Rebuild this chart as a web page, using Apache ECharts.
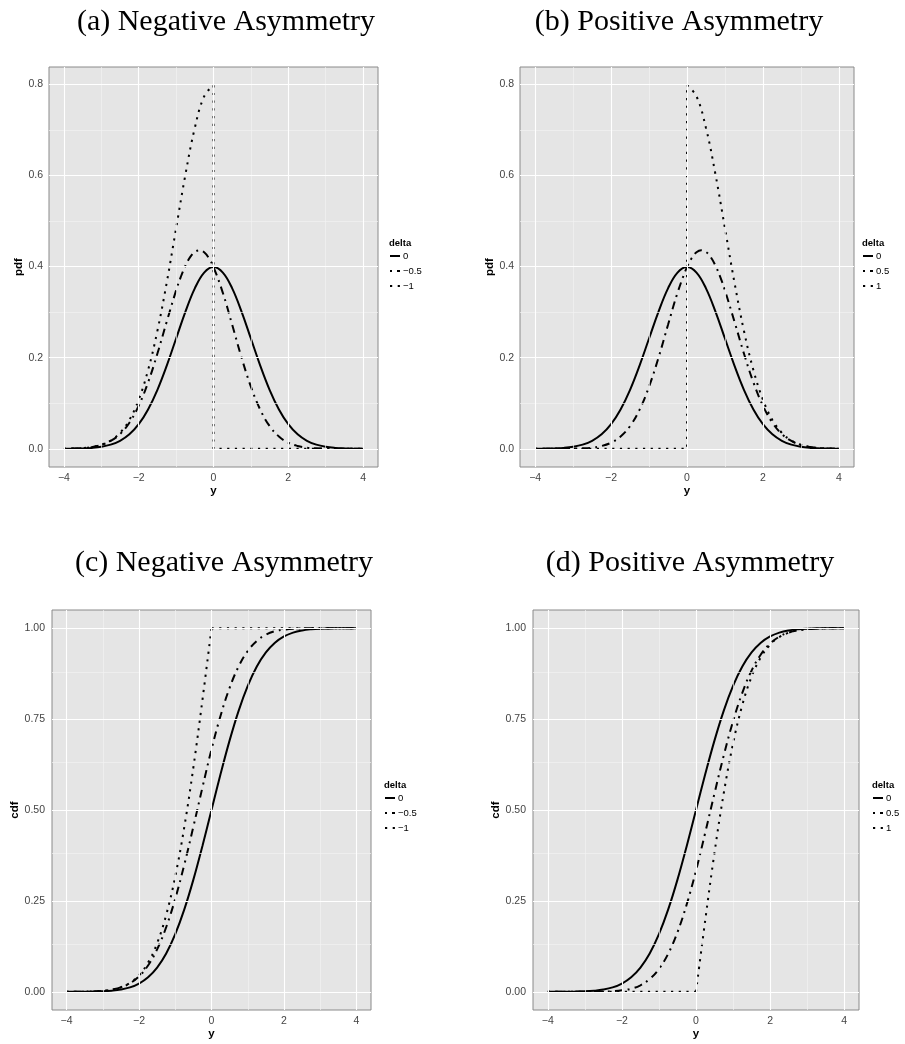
<!DOCTYPE html>
<html>
<head>
<meta charset="utf-8">
<script src="https://cdn.jsdelivr.net/npm/echarts@6/dist/echarts.min.js"></script>
<style>
html,body{margin:0;padding:0;background:#fff;}
#chart{width:905px;height:1044px;}
</style>
</head>
<body>
<div id="chart"></div>
<script>
// ---------- data ----------
const X_FULL = [-4,-3.75,-3.5,-3.25,-3,-2.75,-2.5,-2.25,-2,-1.75,-1.5,-1.25,-1,-0.75,-0.5,-0.25,0,0.25,0.5,0.75,1,1.25,1.5,1.75,2,2.25,2.5,2.75,3,3.25,3.5,3.75,4];
const X_NEG = [-4,-3.75,-3.5,-3.25,-3,-2.75,-2.5,-2.25,-2,-1.75,-1.5,-1.25,-1,-0.75,-0.5,-0.25,0];
const X_POS = [0,0.25,0.5,0.75,1,1.25,1.5,1.75,2,2.25,2.5,2.75,3,3.25,3.5,3.75,4];
// finer steps around the peak of the skewed pdf
const X_PEAK_NEG = [-4,-3.75,-3.5,-3.25,-3,-2.75,-2.5,-2.25,-2,-1.75,-1.5,-1.25,-1,-0.875,-0.75,-0.625,-0.5,-0.375,-0.25,-0.125,0,0.25,0.5,0.75,1,1.25,1.5,1.75,2,2.25,2.5,2.75,3,3.25,3.5,3.75,4];
const X_PEAK_POS = [-4,-3.75,-3.5,-3.25,-3,-2.75,-2.5,-2.25,-2,-1.75,-1.5,-1.25,-1,-0.75,-0.5,-0.25,0,0.125,0.25,0.375,0.5,0.625,0.75,0.875,1,1.25,1.5,1.75,2,2.25,2.5,2.75,3,3.25,3.5,3.75,4];

// (a) pdf, negative asymmetry
const pdfA_0    = [0.0001,0.0004,0.0009,0.0020,0.0044,0.0091,0.0175,0.0317,0.0540,0.0863,0.1295,0.1826,0.2420,0.3011,0.3521,0.3867,0.3989,0.3867,0.3521,0.3011,0.2420,0.1826,0.1295,0.0863,0.0540,0.0317,0.0175,0.0091,0.0044,0.0020,0.0009,0.0004,0.0001];
const pdfA_m05  = [0.0003,0.0007,0.0017,0.0039,0.0085,0.0172,0.0324,0.0573,0.0946,0.1456,0.2090,0.2793,0.3476,0.3772,0.4020,0.4207,0.4321,0.4355,0.4311,0.4186,0.3989,0.3423,0.2721,0.2002,0.1364,0.0859,0.0500,0.0270,0.0134,0.0062,0.0026,0.0010,0.0004,0.0001,0.0000,0.0000,0.0000];
const pdfA_m1   = [0.0003,0.0007,0.0017,0.0041,0.0089,0.0182,0.0350,0.0634,0.1080,0.1726,0.2590,0.3652,0.4839,0.6022,0.7041,0.7733,0.7979];
const pdfA_m1_jumpX = [0, 0, 4];
const pdfA_m1_jumpY = [0.7979, 0, 0];

// (b) pdf, positive asymmetry
const pdfB_0    = [0.0001,0.0004,0.0009,0.0020,0.0044,0.0091,0.0175,0.0317,0.0540,0.0863,0.1295,0.1826,0.2420,0.3011,0.3521,0.3867,0.3989,0.3867,0.3521,0.3011,0.2420,0.1826,0.1295,0.0863,0.0540,0.0317,0.0175,0.0091,0.0044,0.0020,0.0009,0.0004,0.0001];
const pdfB_05   = [0.0000,0.0000,0.0000,0.0001,0.0004,0.0010,0.0026,0.0062,0.0134,0.0270,0.0500,0.0859,0.1364,0.2002,0.2721,0.3423,0.3989,0.4186,0.4311,0.4355,0.4321,0.4207,0.4020,0.3772,0.3476,0.2793,0.2090,0.1456,0.0946,0.0573,0.0324,0.0172,0.0085,0.0039,0.0017,0.0007,0.0003];
const pdfB_1    = [0.7979,0.7733,0.7041,0.6022,0.4839,0.3652,0.2590,0.1726,0.1080,0.0634,0.0350,0.0182,0.0089,0.0041,0.0017,0.0007,0.0003];
const pdfB_1_jumpX = [-4, 0, 0];
const pdfB_1_jumpY = [0, 0, 0.7979];

// (c) cdf, negative asymmetry
const cdfC_0    = [0.0000,0.0001,0.0002,0.0006,0.0013,0.0030,0.0062,0.0122,0.0228,0.0401,0.0668,0.1056,0.1587,0.2266,0.3085,0.4013,0.5000,0.5987,0.6915,0.7734,0.8413,0.8944,0.9332,0.9599,0.9772,0.9878,0.9938,0.9970,0.9987,0.9994,0.9998,0.9999,1.0000];
const cdfC_m05  = [0.0001,0.0002,0.0005,0.0012,0.0027,0.0060,0.0122,0.0234,0.0424,0.0724,0.1167,0.1778,0.2561,0.3498,0.4541,0.5620,0.6667,0.7593,0.8361,0.8952,0.9372,0.9650,0.9820,0.9916,0.9960,0.9984,0.9994,0.9998,1.0000,1.0000,1.0000,1.0000,1.0000];
const cdfC_m1   = [0.0001,0.0002,0.0005,0.0012,0.0027,0.0060,0.0124,0.0244,0.0455,0.0801,0.1336,0.2113,0.3173,0.4533,0.6171,0.8026,1.0000];
const cdfC_m1_flatX = [0, 4];
const cdfC_m1_flatY = [1, 1];

// (d) cdf, positive asymmetry
const cdfD_0    = [0.0000,0.0001,0.0002,0.0006,0.0013,0.0030,0.0062,0.0122,0.0228,0.0401,0.0668,0.1056,0.1587,0.2266,0.3085,0.4013,0.5000,0.5987,0.6915,0.7734,0.8413,0.8944,0.9332,0.9599,0.9772,0.9878,0.9938,0.9970,0.9987,0.9994,0.9998,0.9999,1.0000];
const cdfD_05   = [0.0000,0.0000,0.0000,0.0000,0.0000,0.0002,0.0006,0.0016,0.0040,0.0084,0.0180,0.0350,0.0628,0.1048,0.1639,0.2407,0.3333,0.4380,0.5459,0.6502,0.7439,0.8222,0.8833,0.9276,0.9576,0.9766,0.9878,0.9940,0.9973,0.9988,0.9995,0.9998,0.9999];
const cdfD_1    = [0.0000,0.1974,0.3829,0.5467,0.6827,0.7887,0.8664,0.9199,0.9545,0.9756,0.9876,0.9940,0.9973,0.9988,0.9995,0.9998,0.9999];
const cdfD_1_flatX = [-4, 0];
const cdfD_1_flatY = [0, 0];

// axis ticks
const X_TICKS = [-4, -2, 0, 2, 4];
const X_MINOR = [-3, -1, 1, 3];
const PDF_TICKS = [0, 0.2, 0.4, 0.6, 0.8];
const PDF_MINOR = [0.1, 0.3, 0.5, 0.7];
const CDF_TICKS = [0, 0.25, 0.5, 0.75, 1];
const CDF_MINOR = [0.125, 0.375, 0.625, 0.875];

const TITLES = ['(a) Negative Asymmetry', '(b) Positive Asymmetry', '(c) Negative Asymmetry', '(d) Positive Asymmetry'];
const LEGEND_NEG = ['0', '\u22120.5', '\u22121'];
const LEGEND_POS = ['0', '0.5', '1'];

// ---------- build ----------
const zip = (xs, ys) => xs.map((x, i) => [x, ys[i]]);
const minus = v => String(v).replace('-', '\u2212');

const SANS = '"Liberation Sans", Arial, sans-serif';
const SERIF = '"Liberation Serif", "Times New Roman", serif';

const panels = [
  {grid:{left:49, top:67, width:329, height:400}, y:[-0.0399, 0.8378], yTicks:PDF_TICKS, yMinor:PDF_MINOR, yDec:1, yName:'pdf',
   curves:[[pdfA_0, X_FULL], [pdfA_m05, X_PEAK_NEG], [pdfA_m1, X_NEG]], extra:[pdfA_m1_jumpX, pdfA_m1_jumpY], names:LEGEND_NEG,
   title:[226, 22], legend:[389, 243]},
  {grid:{left:520, top:67, width:334, height:400}, y:[-0.0399, 0.8378], yTicks:PDF_TICKS, yMinor:PDF_MINOR, yDec:1, yName:'pdf',
   curves:[[pdfB_0, X_FULL], [pdfB_05, X_PEAK_POS], [pdfB_1, X_POS]], extra:[pdfB_1_jumpX, pdfB_1_jumpY], names:LEGEND_POS,
   title:[679, 22], legend:[862, 243]},
  {grid:{left:52, top:610, width:319, height:400}, y:[-0.05, 1.05], yTicks:CDF_TICKS, yMinor:CDF_MINOR, yDec:2, yName:'cdf',
   curves:[[cdfC_0, X_FULL], [cdfC_m05, X_FULL], [cdfC_m1, X_NEG]], extra:[cdfC_m1_flatX, cdfC_m1_flatY], names:LEGEND_NEG,
   title:[224, 563], legend:[384, 785]},
  {grid:{left:533, top:610, width:326, height:400}, y:[-0.05, 1.05], yTicks:CDF_TICKS, yMinor:CDF_MINOR, yDec:2, yName:'cdf',
   curves:[[cdfD_0, X_FULL], [cdfD_05, X_FULL], [cdfD_1, X_POS]], extra:[cdfD_1_flatX, cdfD_1_flatY], names:LEGEND_POS,
   title:[690, 563], legend:[872, 785]}
];

const LINE_TYPES = ['solid', [2, 5, 8, 5], [2.2, 5.5]];
const LW = 2;

const grids = [], xAxes = [], yAxes = [], series = [], legends = [], graphics = [];

panels.forEach((p, i) => {
  grids.push(Object.assign({show:true, backgroundColor:'#e5e5e5', borderColor:'#8a8a8a', borderWidth:1, containLabel:false}, p.grid));
  xAxes.push({
    type:'value', gridIndex:i, min:-4.4, max:4.4,
    name:'y', nameLocation:'middle', nameGap:16,
    nameTextStyle:{fontFamily:SANS, fontWeight:'bold', fontSize:11.5, color:'#000'},
    axisLine:{show:false},
    axisTick:{show:true, length:4, customValues:X_TICKS, lineStyle:{color:'#555', width:1}},
    axisLabel:{show:true, customValues:X_TICKS, margin:6, fontFamily:SANS, fontSize:10.5, color:'#444', formatter:v => minus(v)},
    splitLine:{show:false}, minorSplitLine:{show:false}
  });
  yAxes.push({
    type:'value', gridIndex:i, min:p.y[0], max:p.y[1],
    name:p.yName, nameLocation:'middle', nameRotate:90, nameGap:i >= 2 ? 26 : 23,
    nameTextStyle:{fontFamily:SANS, fontWeight:'bold', fontSize:11.5, color:'#000'},
    axisLine:{show:false},
    axisTick:{show:true, length:4, customValues:p.yTicks, lineStyle:{color:'#555', width:1}},
    axisLabel:{show:true, customValues:p.yTicks, margin:i >= 2 ? 7 : 6, fontFamily:SANS, fontSize:10.5, color:'#444', formatter:v => v.toFixed(p.yDec)},
    splitLine:{show:false}
  });
  // grid lines (drawn through the axis scales)
  const minorStyle = {color:'#f2f2f2', width:0.7, type:'solid'};
  const majorStyle = {color:'#ffffff', width:1.1, type:'solid'};
  const ml = [];
  X_MINOR.forEach(v => ml.push({xAxis:v, lineStyle:minorStyle}));
  p.yMinor.forEach(v => ml.push({yAxis:v, lineStyle:minorStyle}));
  X_TICKS.forEach(v => ml.push({xAxis:v, lineStyle:majorStyle}));
  p.yTicks.forEach(v => ml.push({yAxis:v, lineStyle:majorStyle}));
  series.push({
    type:'line', name:'grid' + i, xAxisIndex:i, yAxisIndex:i, data:[], z:1, silent:true,
    markLine:{silent:true, symbol:['none','none'], animation:false, label:{show:false}, emphasis:{disabled:true}, data:ml}
  });
  p.curves.forEach((c, k) => {
    series.push({
      type:'line', name:p.names[k], xAxisIndex:i, yAxisIndex:i, z:3,
      data:zip(c[1], c[0]), smooth:0.4, symbol:'none', animation:false, silent:true,
      color:'#000', itemStyle:{color:'#000'},
      lineStyle:{color:'#000', width:LW, type:LINE_TYPES[k], cap:'butt'}
    });
  });
  series.push({
    type:'line', name:'extra' + i, xAxisIndex:i, yAxisIndex:i, z:3,
    data:zip(p.extra[0], p.extra[1]), smooth:false, symbol:'none', animation:false, silent:true,
    color:'#000', itemStyle:{color:'#000'},
    lineStyle:{color:'#000', width:LW, type:LINE_TYPES[2], cap:'butt'}
  });
  legends.push({
    orient:'vertical', left:p.legend[0], top:p.legend[1] + 8, padding:0,
    itemWidth:10, itemHeight:12, itemGap:5, selectedMode:false,
    data:p.names,
    itemStyle:{color:'rgba(0,0,0,0)', borderWidth:0, opacity:0},
    lineStyle:{width:LW, color:'#000'},
    textStyle:{fontFamily:SANS, fontSize:9.5, color:'#000', padding:[0,0,0,-2]}
  });
  graphics.push({type:'text', x:p.legend[0], y:p.legend[1],
    style:{text:'delta', font:'bold 9.5px ' + SANS, fill:'#000', align:'left', verticalAlign:'middle'}});
  graphics.push({type:'text', x:p.title[0], y:p.title[1],
    style:{text:TITLES[i], font:'30px ' + SERIF, fill:'#000', align:'center', verticalAlign:'middle'}});
});

const chart = echarts.init(document.getElementById('chart'), null, {renderer:'canvas'});
chart.setOption({
  animation:false,
  backgroundColor:'#ffffff',
  grid:grids, xAxis:xAxes, yAxis:yAxes, series:series, legend:legends, graphic:graphics
});
</script>
</body>
</html>
